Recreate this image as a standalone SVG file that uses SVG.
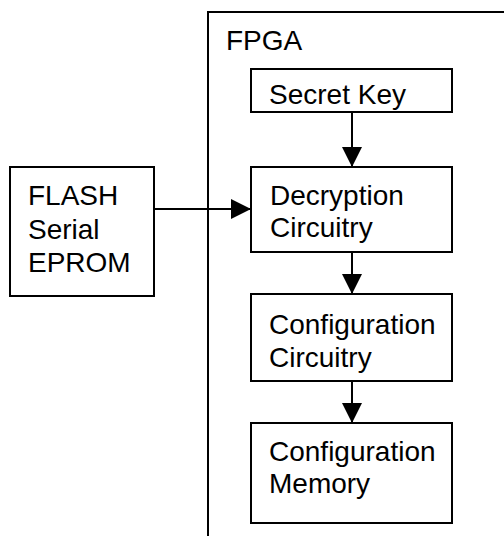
<svg xmlns="http://www.w3.org/2000/svg" width="504" height="536" viewBox="0 0 504 536">
  <style>
    .box { fill: #ffffff; stroke: #000000; stroke-width: 2; }
    .lbl { font-family: "Liberation Sans", Arial, sans-serif; font-size: 28px; fill: #000000; }
    .wire { stroke: #000000; stroke-width: 2; fill: none; }
  </style>
  <defs>
    <marker id="arrow" markerUnits="userSpaceOnUse" markerWidth="20" markerHeight="20" refX="20" refY="10" orient="auto">
      <path d="M0,0 L20,10 L0,20 z" fill="#000000"/>
    </marker>
  </defs>
  <rect width="504" height="536" fill="#ffffff"/>

  <!-- FPGA outline (continues past the right and bottom edges) -->
  <g id="fpga">
    <rect class="box" x="208" y="12" width="320" height="540"/>
    <text class="lbl" x="226" y="50">FPGA</text>
  </g>

  <g id="secret-key">
    <rect class="box" x="251" y="69" width="201" height="43"/>
    <text class="lbl" x="269" y="104">Secret Key</text>
  </g>

  <g id="decryption">
    <rect class="box" x="251" y="167" width="201" height="85"/>
    <text class="lbl" x="270" y="205">Decryption</text>
    <text class="lbl" x="270" y="237">Circuitry</text>
  </g>

  <g id="config-circuitry">
    <rect class="box" x="251" y="294" width="201" height="87"/>
    <text class="lbl" x="269" y="334">Configuration</text>
    <text class="lbl" x="269" y="367">Circuitry</text>
  </g>

  <g id="config-memory">
    <rect class="box" x="251" y="423" width="201" height="100"/>
    <text class="lbl" x="269" y="461">Configuration</text>
    <text class="lbl" x="269" y="493">Memory</text>
  </g>

  <g id="flash">
    <rect class="box" x="10" y="167" width="144" height="129"/>
    <text class="lbl" x="28" y="205">FLASH</text>
    <text class="lbl" x="28" y="239">Serial</text>
    <text class="lbl" x="28" y="272">EPROM</text>
  </g>

  <g id="connectors">
    <line class="wire" x1="352" y1="112" x2="352" y2="167" marker-end="url(#arrow)"/>
    <line class="wire" x1="154" y1="209" x2="251" y2="209" marker-end="url(#arrow)"/>
    <line class="wire" x1="352" y1="252" x2="352" y2="294" marker-end="url(#arrow)"/>
    <line class="wire" x1="352" y1="381" x2="352" y2="423" marker-end="url(#arrow)"/>
  </g>
</svg>
